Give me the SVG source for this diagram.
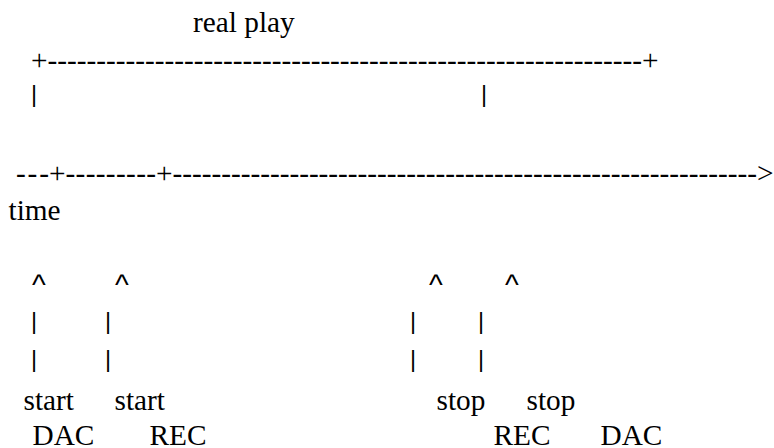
<svg xmlns="http://www.w3.org/2000/svg" width="774" height="448" viewBox="0 0 774 448">
  <style>
    text { fill: #000; }
  </style>
  <rect width="774" height="448" fill="#fff"/>

  <!-- serif text: words, plus signs, dashes and the arrow tip -->
  <g font-family="Liberation Serif, serif" font-size="29.3">
    <!-- span of the real playback -->
    <g id="real-play">
      <text x="193" y="32">real play</text>
      <text x="31" y="70.4" textLength="627.5" lengthAdjust="spacing">+-------------------------------------------------------------+</text>
    </g>

    <!-- time axis -->
    <g id="time-axis">
      <text x="16" y="183.4" textLength="33" lengthAdjust="spacing">---</text>
      <text x="49" y="183.4">+</text>
      <text x="65.5" y="183.4" textLength="90.5" lengthAdjust="spacing">---------</text>
      <text x="156" y="183.4">+</text>
      <text x="172.5" y="183.4" textLength="584.5" lengthAdjust="spacing">------------------------------------------------------------</text>
      <text x="757" y="183.4">&gt;</text>
      <text x="8.5" y="220">time</text>
    </g>

    <!-- events -->
    <g id="start-dac">
      <text x="23.5" y="410">start</text>
      <text x="32.5" y="445">DAC</text>
    </g>
    <g id="start-rec">
      <text x="114.5" y="410">start</text>
      <text x="149.5" y="445">REC</text>
    </g>
    <g id="stop-rec">
      <text x="436.5" y="410">stop</text>
      <text x="493.5" y="445">REC</text>
    </g>
    <g id="stop-dac">
      <text x="526.5" y="410">stop</text>
      <text x="600.5" y="445">DAC</text>
    </g>
  </g>

  <!-- sans text: vertical bars and carets -->
  <g font-family="Liberation Sans, sans-serif">
    <g id="span-ticks" font-size="23.4">
      <text x="31" y="102">|</text>
      <text x="481" y="102">|</text>
    </g>

    <!-- pointers from the events up to the axis -->
    <g id="connectors">
      <g font-size="29.3">
        <text x="32" y="294.5">^</text>
        <text x="115" y="294.5">^</text>
        <text x="429" y="294.5">^</text>
        <text x="505" y="294.5">^</text>
      </g>
      <g font-size="23.4">
        <text x="31" y="329">|</text>
        <text x="31" y="367">|</text>
        <text x="105" y="329">|</text>
        <text x="105" y="367">|</text>
        <text x="410" y="329">|</text>
        <text x="410" y="367">|</text>
        <text x="478" y="329">|</text>
        <text x="478" y="367">|</text>
      </g>
    </g>
  </g>
</svg>
